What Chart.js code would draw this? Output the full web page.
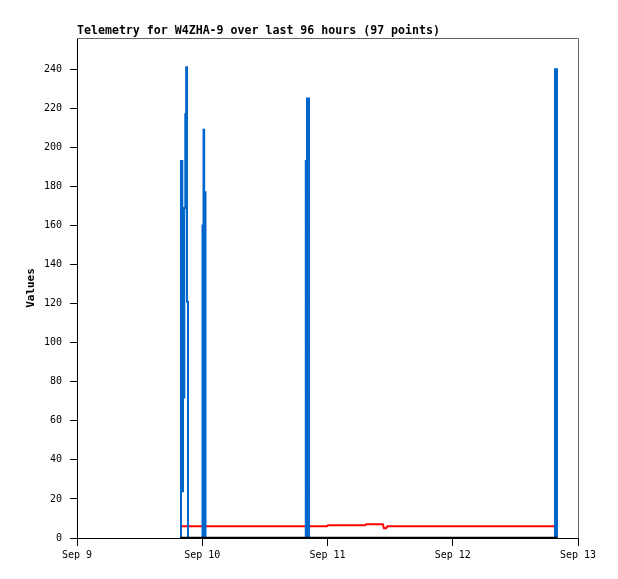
<!DOCTYPE html>
<html>
<head>
<meta charset="utf-8">
<script src="https://cdn.jsdelivr.net/npm/chart.js@4/dist/chart.umd.min.js"></script>
<style>
html, body { margin: 0; padding: 0; background: #fff; }
</style>
</head>
<body>
<canvas id="telemetria" width="618" height="579"></canvas>
<script>
// x values are hours since Sep 9 00:00
const dayLabels = ["Sep 9", "Sep 10", "Sep 11", "Sep 12", "Sep 13"];

const blueHours  = [19.8, 19.93, 20.18, 20.31, 20.43, 20.56, 20.75, 20.92, 21.08, 21.27,
                    24.05, 24.24, 24.37, 24.43, 24.62,
                    43.84, 44.04, 44.07, 44.46,
                    91.59, 91.97, 92.0];
const blueValues = [0, 193, 24, 97, 72, 169, 217, 241, 121, 0,
                    160, 209, 0, 177, 0,
                    193, 0, 225, 0,
                    240, 0, 0];

const redHours  = [19.8, 47.9, 48.1, 55.2, 55.4, 58.6, 58.8, 59.2, 59.5, 92.0];
const redValues = [6, 6, 6.5, 6.5, 7, 7, 5, 5, 6, 6];

const blackHours  = [19.8, 92.0];
const blackValues = [0, 0];

const pares = (xs, ys) => xs.map((x, i) => ({x: x, y: ys[i]}));

const mono = "'DejaVu Sans Mono', 'Liberation Mono', monospace";
Chart.defaults.font.family = mono;
Chart.defaults.color = "#000";

// title + grey top/right frame
const moldura = {
    id: "moldura",
    beforeDatasetsDraw(chart) {
        const a = chart.chartArea, ctx = chart.ctx;
        ctx.save();
        ctx.strokeStyle = "#666";
        ctx.lineWidth = 1;
        ctx.beginPath();
        ctx.moveTo(a.left, a.top + 0.5);
        ctx.lineTo(a.right + 0.5, a.top + 0.5);
        ctx.lineTo(a.right + 0.5, a.bottom);
        ctx.stroke();
        ctx.restore();
    },
    afterDraw(chart) {
        const ctx = chart.ctx;
        ctx.save();
        ctx.fillStyle = "#000";
        ctx.font = "bold 11.6px " + mono;
        ctx.textBaseline = "alphabetic";
        ctx.textAlign = "left";
        ctx.fillText("Telemetry for W4ZHA-9 over last 96 hours (97 points)", chart.chartArea.left, 34);
        ctx.restore();
    }
};

let grafico = new Chart(document.getElementById("telemetria"), {
    type: "line",
    data: {
        datasets: [
            {label: "zero", data: pares(blackHours, blackValues), borderColor: "#000", borderWidth: 2.5, order: 0},
            {label: "blue", data: pares(blueHours, blueValues), borderColor: "#0066cc", borderWidth: 2, stepped: "before", order: 1},
            {label: "red", data: pares(redHours, redValues), borderColor: "#ff0000", borderWidth: 2, order: 2}
        ]
    },
    options: {
        responsive: false,
        animation: false,
        devicePixelRatio: 1,
        layout: {padding: {top: 38, right: 40, left: 0, bottom: 0}},
        elements: {
            point: {radius: 0},
            line: {tension: 0, borderJoinStyle: "miter", borderCapStyle: "butt", fill: false}
        },
        plugins: {legend: {display: false}, tooltip: {enabled: false}},
        scales: {
            x: {
                type: "linear",
                min: 0, max: 96,
                afterFit: s => { s.height = 41; },
                grid: {drawOnChartArea: false, drawTicks: true, tickLength: 8, color: "#000"},
                border: {color: "#000", width: 1},
                ticks: {
                    stepSize: 24,
                    autoSkip: false,
                    maxRotation: 0,
                    padding: 3,
                    font: {size: 10},
                    callback: v => dayLabels[v / 24]
                }
            },
            y: {
                min: 0, max: 256,
                afterFit: s => { s.width = 77; },
                grid: {drawOnChartArea: false, drawTicks: true, tickLength: 7, color: "#000"},
                border: {color: "#000", width: 1},
                ticks: {stepSize: 20, includeBounds: false, padding: 8, font: {size: 10}},
                title: {display: true, text: "Values", font: {size: 11, weight: "bold"}, padding: {top: 25, bottom: 0}}
            }
        }
    },
    plugins: [moldura]
});
</script>
</body>
</html>
